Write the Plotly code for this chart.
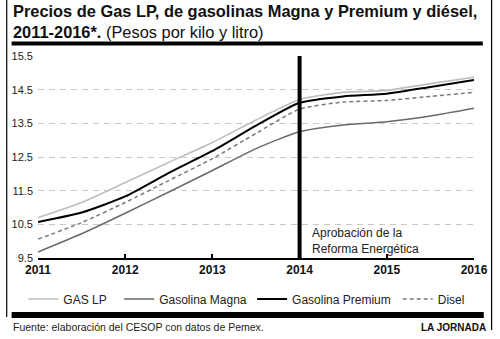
import plotly.graph_objects as go

# ---- data ----
years = [2011, 2011.5, 2012, 2012.5, 2013, 2013.5, 2014, 2014.5, 2015, 2015.5, 2016]
gas_lp = [10.70, 11.15, 11.74, 12.34, 12.93, 13.60, 14.21, 14.42, 14.48, 14.68, 14.87]
magna = [9.68, 10.22, 10.83, 11.46, 12.10, 12.75, 13.25, 13.45, 13.55, 13.72, 13.95]
premium = [10.57, 10.85, 11.33, 12.03, 12.68, 13.43, 14.11, 14.30, 14.38, 14.58, 14.79]
disel = [10.06, 10.55, 11.15, 11.80, 12.45, 13.20, 13.92, 14.13, 14.18, 14.30, 14.42]

series_names = ["GAS LP", "Gasolina Magna", "Gasolina Premium", "Disel"]
x_ticks = [2011, 2012, 2013, 2014, 2015, 2016]
y_ticks = [9.5, 10.5, 11.5, 12.5, 13.5, 14.5, 15.5]
reform_year = 2014

FONT = "Liberation Sans, Arial, sans-serif"

# plot area in pixels
W, H = 500, 339
L, R, T, B = 35, 481, 56, 258
pw, ph = R - L, B - T


def px(x):
    return (x - L) / pw


def py(y):
    return (B - y) / ph


fig = go.Figure()
styles = [
    dict(color="#bdbdbd", width=1.6),
    dict(color="#6a6a6a", width=1.5),
    dict(color="#000000", width=2.0),
    dict(color="#7a7a7a", width=1.5, dash="4px,3px"),
]
data = [gas_lp, magna, premium, disel]
legend_x = [25, 123, 259, 408]
legend_names = ["legend", "legend2", "legend3", "legend4"]
for name, ys, st, ln in zip(series_names, data, styles, legend_names):
    fig.add_trace(go.Scatter(x=years, y=ys, mode="lines", name=name,
                             line=dict(shape="spline", smoothing=0.6, **st),
                             legend=ln, hoverinfo="skip"))

layout_legends = {}
for ln, lx in zip(legend_names, legend_x):
    layout_legends[ln] = dict(
        x=px(lx - 5), y=py(299), xanchor="left", yanchor="middle",
        orientation="h", bgcolor="rgba(0,0,0,0)", borderwidth=0,
        font=dict(family=FONT, size=12, color="#222"),
        itemwidth=30, tracegroupgap=0,
    )

shapes = [
    # vertical reform line
    dict(type="line", xref="x", yref="y", x0=reform_year, x1=reform_year,
         y0=y_ticks[0], y1=y_ticks[-1], line=dict(color="#000", width=4)),
    # top bar
    dict(type="rect", xref="paper", yref="paper", x0=px(8), x1=px(490),
         y0=py(45.5), y1=py(41.5), fillcolor="#000", line=dict(width=0)),
    # bottom bar
    dict(type="rect", xref="paper", yref="paper", x0=px(8), x1=px(491),
         y0=py(318), y1=py(312), fillcolor="#000", line=dict(width=0)),
    # left border
    dict(type="line", xref="paper", yref="paper", x0=px(3), x1=px(3),
         y0=py(0), y1=py(317), line=dict(color="#000", width=1.2)),
    # right border
    dict(type="line", xref="paper", yref="paper", x0=px(499), x1=px(499),
         y0=py(0), y1=py(330), line=dict(color="#000", width=1.2)),
]

annotations = [
    dict(xref="paper", yref="paper", x=px(7), y=py(0), xanchor="left", yanchor="top",
         align="left", showarrow=False,
         text="<b>Precios de Gas LP, de gasolinas Magna y Premium y diésel,</b><br>"
              "<b>2011-2016*.</b> (Pesos por kilo y litro)",
         font=dict(family=FONT, size=16.4, color="#111")),
    dict(xref="x", yref="paper", x=reform_year, xshift=10, y=py(241), xanchor="left",
         yanchor="middle", align="left", showarrow=False,
         text="Aprobación de la<br>Reforma Energética",
         font=dict(family=FONT, size=12, color="#222")),
    dict(xref="paper", yref="paper", x=px(7), y=py(327), xanchor="left", yanchor="middle",
         showarrow=False, text="Fuente: elaboración del CESOP con datos de Pemex.",
         font=dict(family=FONT, size=10.5, color="#222")),
    dict(xref="paper", yref="paper", x=px(495), y=py(327), xanchor="right", yanchor="middle",
         showarrow=False, text="<b>LA JORNADA</b>",
         font=dict(family=FONT, size=10, color="#111")),
]

fig.update_layout(
    width=W, height=H,
    margin=dict(l=L, r=W - R, t=T, b=H - B),
    paper_bgcolor="white", plot_bgcolor="white",
    shapes=shapes, annotations=annotations,
    showlegend=True,
    **layout_legends,
)
fig.update_xaxes(range=[x_ticks[0], x_ticks[-1]], tickvals=x_ticks,
                 ticktext=[f"<b>{t}</b>" for t in x_ticks],
                 showgrid=False, zeroline=False,
                 showline=True, linecolor="#000", linewidth=1.5,
                 ticks="inside", ticklen=4, tickcolor="#000", tickwidth=1.5,
                 tickfont=dict(family=FONT, size=12, color="#111"))
fig.update_yaxes(range=[y_ticks[0], y_ticks[-1]], tickvals=y_ticks,
                 ticktext=[str(v) for v in y_ticks],
                 showgrid=True, gridcolor="#c8c8c8", gridwidth=1, griddash="6px,5px",
                 zeroline=False, showline=False, ticks="", ticklabelstandoff=4,
                 tickfont=dict(family=FONT, size=11, color="#222"))

fig.write_html("out.html")
